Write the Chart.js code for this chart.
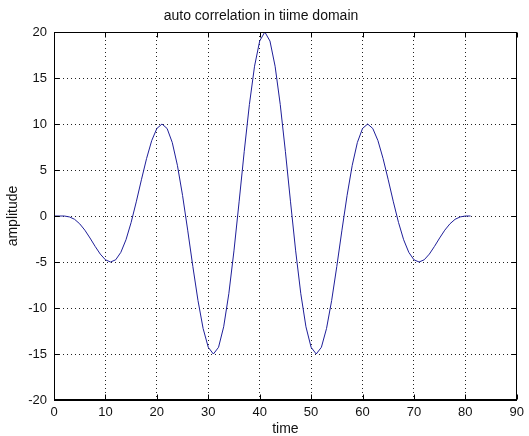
<!DOCTYPE html>
<html lang="en">
<head>
  <meta charset="UTF-8">
  <title>auto correlation in tiime domain</title>
  <script src="https://cdn.jsdelivr.net/npm/chart.js"></script>
  <style>
    html, body { margin: 0; padding: 0; background: #fff; }
    #plot { display: block; }
  </style>
</head>
<body>
  <canvas id="plot" width="529" height="436"></canvas>

  <script>
    // sample index (x) and auto-correlation value (y)
    const timeIndex = [
      0, 1, 2, 3, 4, 5, 6, 7, 8, 9, 10, 11, 12, 13, 14, 15, 16, 17, 18, 19, 20,
      21, 22, 23, 24, 25, 26, 27, 28, 29, 30, 31, 32, 33, 34, 35, 36, 37, 38, 39, 40,
      41, 42, 43, 44, 45, 46, 47, 48, 49, 50, 51, 52, 53, 54, 55, 56, 57, 58, 59, 60,
      61, 62, 63, 64, 65, 66, 67, 68, 69, 70, 71, 72, 73, 74, 75, 76, 77, 78, 79, 80, 81
    ];
    const amplitude = [
      0,
      0, 0, -0.10, -0.36, -0.85, -1.54, -2.39, -3.30, -4.14, -4.76,
      -5.00, -4.76, -3.95, -2.58, -0.70, 1.54, 3.94, 6.24, 8.19, 9.51,
      10.00, 9.51, 7.99, 5.51, 2.24, -1.54, -5.48, -9.18, -12.23, -14.27,
      -15.00, -14.27, -12.04, -8.45, -3.79, 1.54, 7.03, 12.12, 16.28, 19.02,
      20.00,
      19.02, 16.28, 12.12, 7.03, 1.54, -3.79, -8.45, -12.04, -14.27, -15.00,
      -14.27, -12.23, -9.18, -5.48, -1.54, 2.24, 5.51, 7.99, 9.51, 10.00,
      9.51, 8.19, 6.24, 3.94, 1.54, -0.70, -2.58, -3.95, -4.76, -5.00,
      -4.76, -4.14, -3.30, -2.39, -1.54, -0.85, -0.36, -0.10, 0, 0
    ];
    const xTicks = [0, 10, 20, 30, 40, 50, 60, 70, 80, 90];
    const yTicks = [-20, -15, -10, -5, 0, 5, 10, 15, 20];

    const points = timeIndex.map((t, i) => ({ x: t, y: amplitude[i] }));

    Chart.defaults.font.family = '"Liberation Sans", Arial, sans-serif';
    Chart.defaults.font.size = 12;
    Chart.defaults.color = '#111';

    // matlab style box with little inward ticks on all four sides
    const boxPlugin = {
      id: 'box',
      afterDatasetsDraw(chart) {
        const { ctx, chartArea: a, scales } = chart;
        const L = Math.round(a.left) + 0.5, R = Math.round(a.right) - 0.5;
        const T = Math.round(a.top) + 0.5, B = Math.round(a.bottom) - 0.5;
        const len = 5;
        ctx.save();
        ctx.strokeStyle = '#000';
        ctx.lineWidth = 1;
        ctx.beginPath();
        xTicks.forEach(v => {
          const px = Math.round(scales.x.getPixelForValue(v)) + 0.5;
          ctx.moveTo(px, B); ctx.lineTo(px, B - len);
          ctx.moveTo(px, T); ctx.lineTo(px, T + len);
        });
        yTicks.forEach(v => {
          const py = Math.round(scales.y.getPixelForValue(v)) + 0.5;
          ctx.moveTo(L, py); ctx.lineTo(L + len, py);
          ctx.moveTo(R, py); ctx.lineTo(R - len, py);
        });
        ctx.stroke();
        ctx.strokeRect(L, T, R - L, B - T);
        ctx.restore();
      }
    };

    new Chart(document.getElementById('plot'), {
      type: 'scatter',
      data: {
        datasets: [{
          data: points,
          showLine: true,
          borderColor: '#1f1f99',
          borderWidth: 1,
          pointRadius: 0,
          tension: 0
        }]
      },
      options: {
        responsive: false,
        animation: false,
        layout: { padding: { left: 0, top: 0, right: 7, bottom: 0 } },
        plugins: {
          legend: { display: false },
          tooltip: { enabled: false },
          title: {
            display: true,
            text: 'auto correlation in tiime domain',
            font: { size: 14, weight: 'normal' },
            color: '#111',
            padding: { top: 8, bottom: 7.2 }
          }
        },
        scales: {
          x: {
            type: 'linear',
            min: 0,
            max: 90,
            afterBuildTicks: s => { s.ticks = xTicks.map(v => ({ value: v })); },
            afterFit: s => { s.height = 36; },
            ticks: { padding: 5, color: '#111', font: { size: 13 } },
            grid: { color: '#222', drawTicks: false, lineWidth: 1 },
            border: { display: true, color: '#000', dash: [1, 3] },
            title: { display: true, text: 'time', font: { size: 14, lineHeight: 1 }, padding: 0, color: '#111' }
          },
          y: {
            type: 'linear',
            min: -20,
            max: 20,
            afterBuildTicks: s => { s.ticks = yTicks.map(v => ({ value: v })); },
            afterFit: s => { s.width = 54; },
            ticks: { padding: 7, color: '#111', font: { size: 13 } },
            grid: { color: '#222', drawTicks: false, lineWidth: 1 },
            border: { display: true, color: '#000', dash: [1, 3] },
            title: { display: true, text: 'amplitude', font: { size: 14 }, padding: { top: 4.6, bottom: 0 }, color: '#111' }
          }
        }
      },
      plugins: [boxPlugin]
    });
  </script>
</body>
</html>
